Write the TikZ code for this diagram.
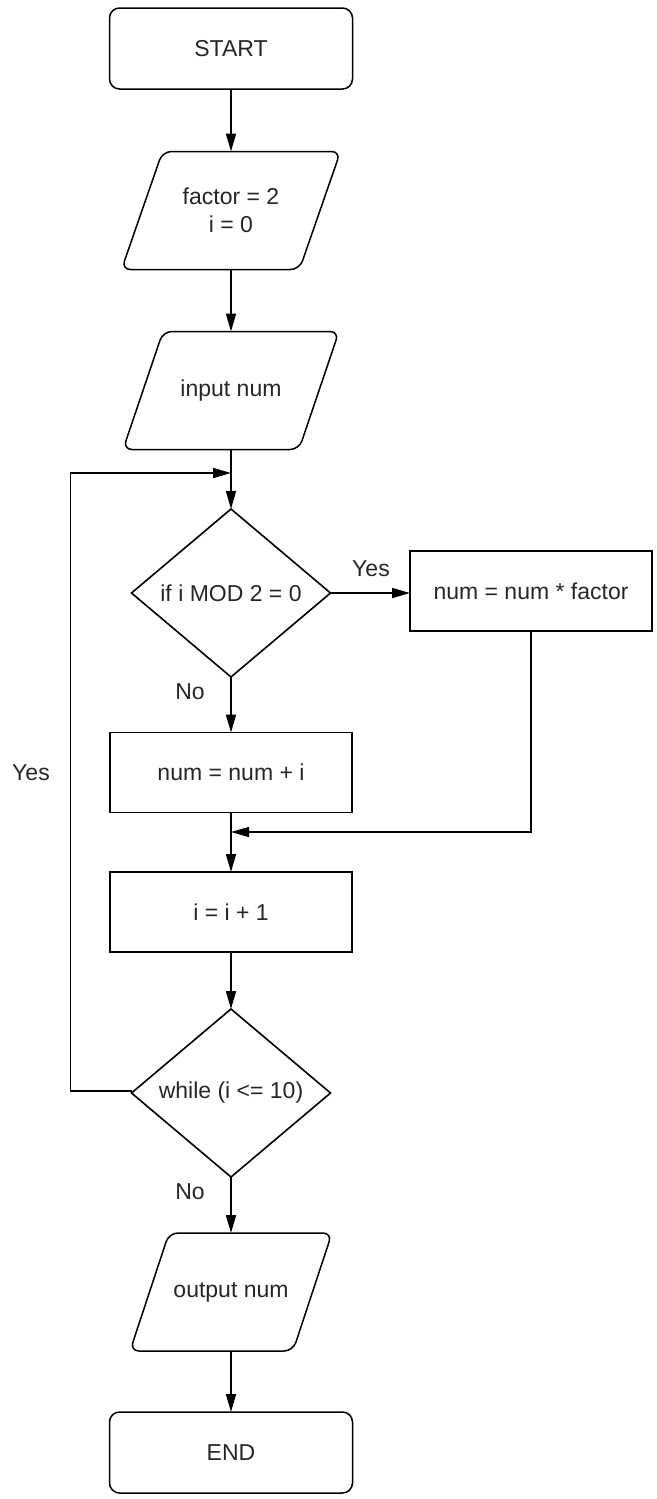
\documentclass[tikz,border=0pt]{standalone}
\usepackage{fontspec}
\setmainfont{Liberation Sans}
\usetikzlibrary{shapes.geometric,arrows.meta}

\newcommand\ioshape[2]{%
  \draw[ioline] ([xshift=#2pt]#1.north west) -- ([xshift=#2pt]#1.north east)
    -- ([xshift=-#2pt]#1.south east) -- ([xshift=-#2pt]#1.south west) -- cycle;}

\begin{document}
\begin{tikzpicture}[x=1pt,y=-1pt,
  every node/.style={font=\fontsize{23}{28}\selectfont, text=black!85, inner sep=0pt, outer sep=0pt},
  terminal/.style={draw, line width=1.5pt, rounded corners=10pt, minimum width=243pt, minimum height=81pt},
  procbox/.style={draw, line width=1.7pt, minimum width=242pt, minimum height=80pt},
  decision/.style={draw, line width=1.6pt, diamond, minimum width=199pt, minimum height=168pt},
  iobox/.style={minimum width=#1, minimum height=118pt, align=center},
  ioline/.style={line width=1.5pt, rounded corners=9pt},
  flow/.style={line width=1.8pt, -{Triangle[length=18pt,width=10pt]}},
  thinflow/.style={line width=1.1pt, -{Triangle[length=18pt,width=10pt]}},
  lbl/.style={}]
\useasboundingbox (0,0) rectangle (656,1499);

% main column
\node[terminal] (start) at (231,48.5) {START};
\node[iobox=178pt] (init) at (231,210.5) {factor = 2\\i = 0};
\ioshape{init}{20.5}
\node[iobox=176pt] (input) at (231,390.5) {input num};
\ioshape{input}{20}
\node[decision] (even) at (231,593) {if i MOD 2 = 0};
\node[procbox] (mul) at (531,591) {num = num * factor};
\node[procbox] (add) at (231,772.5) {num = num + i};
\node[procbox] (inc) at (231,912) {i = i + 1};
\node[decision] (loop) at (231,1093) {while (i <= 10)};
\node[iobox=163pt] (output) at (231,1292) {output num};
\ioshape{output}{19.5}
\node[terminal] (end) at (231,1452.5) {END};

% junction points
\coordinate (back) at (231,473);
\coordinate (merge) at (231,832);
\coordinate (loopleft) at (70.5,1091);

% connectors
\draw[flow] (start) -- (init);
\draw[flow] (init) -- (input);
\draw[flow] (input) -- (even);
\draw[flow] (even.east) -- (mul.west |- even.east);
\draw[flow] (even) -- (add);
\draw[flow] (add) -- (inc);
\draw[thinflow] (mul.south) |- (merge);
\draw[flow] (inc) -- (loop);
\draw[flow] (loop.west |- loopleft) -- (loopleft) |- (back);
\draw[flow] (loop) -- (output);
\draw[flow] (output) -- (end);

% branch labels
\node[lbl] (yes1) at (371,569) {Yes};
\node[lbl] (no1) at (190,692) {No};
\node[lbl] (yes2) at (31,773) {Yes};
\node[lbl] (no2) at (190,1192) {No};
\end{tikzpicture}
\end{document}
